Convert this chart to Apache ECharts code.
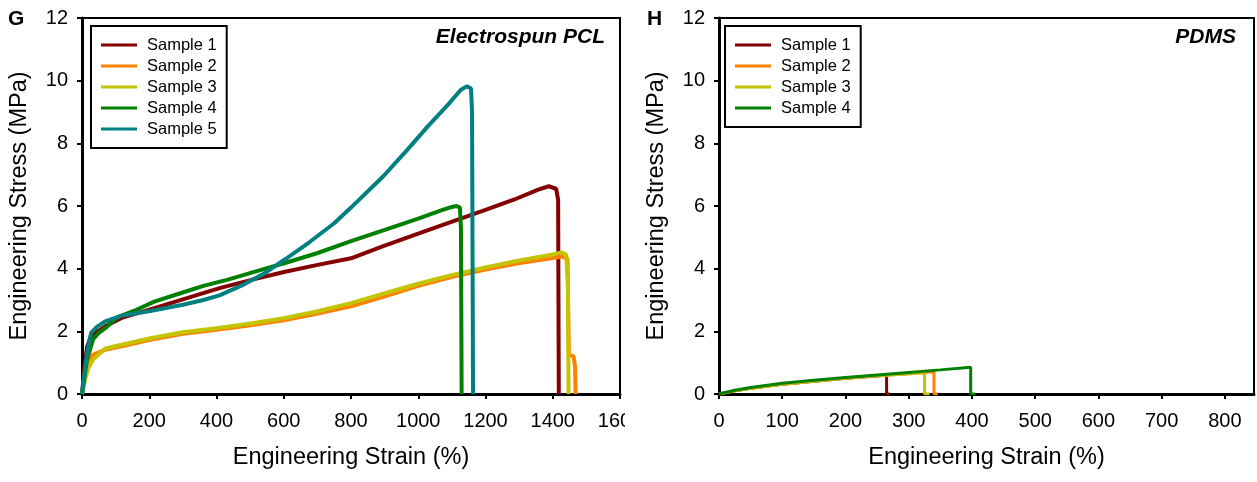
<!DOCTYPE html>
<html>
<head>
<meta charset="utf-8">
<script src="https://cdn.jsdelivr.net/npm/echarts@6/dist/echarts.min.js"></script>
<style>
  html, body { margin: 0; padding: 0; background: #fff; }
  #wrap { position: relative; width: 1257px; height: 482px; overflow: hidden; }
  #left { position: absolute; left: 0; top: 0; width: 625px; height: 482px; }
  #right { position: absolute; left: 625px; top: 0; width: 632px; height: 482px; }
</style>
</head>
<body>
<div id="wrap"><div id="left"></div><div id="right"></div></div>
<script>
// ---------- Data (strain %, stress MPa) ----------
const seriesNamesPCL = ['Sample 1', 'Sample 2', 'Sample 3', 'Sample 4', 'Sample 5'];
const seriesNamesPDMS = ['Sample 1', 'Sample 2', 'Sample 3', 'Sample 4'];
const sampleColors = ['#850000', '#FF8000', '#C4C400', '#008000', '#008080'];

const pclSample1 = [[0,0],[8,0.9],[15,1.5],[25,1.8],[40,1.95],[69,2.16],[118,2.43],[215,2.74],[312,3.06],[409,3.38],[507,3.65],[604,3.9],[701,4.12],[800,4.33],[896,4.72],[1000,5.12],[1090,5.46],[1200,5.88],[1284,6.2],[1357,6.52],[1388,6.63],[1410,6.55],[1416,6.2],[1418,0]];
const pclSample2 = [[0,0],[8,0.6],[15,0.99],[33,1.26],[69,1.41],[118,1.52],[203,1.73],[300,1.92],[400,2.05],[507,2.2],[600,2.35],[701,2.57],[800,2.8],[896,3.1],[1000,3.45],[1102,3.74],[1200,3.97],[1297,4.17],[1400,4.34],[1430,4.39],[1444,4.3],[1448,1.25],[1462,1.2],[1466,0.9],[1468,0]];
const pclSample3 = [[0,0],[10,0.5],[20,0.85],[33,1.1],[69,1.45],[118,1.57],[203,1.78],[300,1.97],[400,2.1],[507,2.26],[600,2.42],[701,2.64],[800,2.9],[896,3.2],[1000,3.52],[1102,3.8],[1200,4.04],[1297,4.25],[1400,4.45],[1425,4.52],[1440,4.45],[1445,3.5],[1447,0]];
const pclSample4 = [[0,0],[15,1.1],[33,1.75],[50,1.95],[69,2.1],[106,2.45],[154,2.65],[215,2.95],[288,3.2],[361,3.45],[434,3.65],[507,3.88],[604,4.18],[701,4.5],[800,4.88],[896,5.22],[1000,5.6],[1066,5.85],[1100,5.97],[1114,6.0],[1124,5.95],[1127,5.3],[1129,0]];
const pclSample5 = [[0,0],[10,0.9],[20,1.6],[27,1.95],[45,2.15],[69,2.32],[118,2.5],[203,2.65],[300,2.85],[361,3.0],[409,3.15],[482,3.5],[543,3.85],[604,4.3],[677,4.85],[750,5.45],[800,5.95],[896,6.95],[968,7.8],[1029,8.55],[1090,9.25],[1126,9.7],[1145,9.82],[1157,9.75],[1160,9.0],[1163,0]];

const pdmsSample1 = [[0,0],[25,0.1],[50,0.18],[100,0.31],[150,0.41],[200,0.5],[265,0.6],[265,0],[270,0]];
const pdmsSample2 = [[0,0],[25,0.1],[50,0.18],[100,0.31],[150,0.41],[200,0.5],[250,0.58],[300,0.65],[340,0.71],[340,0],[346,0]];
const pdmsSample3 = [[0,0],[25,0.1],[50,0.18],[100,0.31],[150,0.41],[200,0.5],[250,0.58],[300,0.65],[325,0.68],[325,0],[333,0]];
const pdmsSample4 = [[0,0],[25,0.12],[50,0.21],[100,0.34],[150,0.44],[200,0.53],[250,0.61],[300,0.69],[350,0.77],[398,0.85],[398,0],[405,0]];

const pclData = [pclSample1, pclSample2, pclSample3, pclSample4, pclSample5];
const pdmsData = [pdmsSample1, pdmsSample2, pdmsSample3, pdmsSample4];

const yTicks = { min: 0, max: 12, interval: 2 };
const pclX = { min: 0, max: 1600, interval: 200 };
const pdmsX = { min: 0, max: 846, interval: 100 };

// ---------- Helpers ----------
const FONT = 'Liberation Sans, Arial, sans-serif';

function makeOption(opts) {
  return {
    animation: false,
    backgroundColor: '#fff',
    textStyle: { fontFamily: FONT },
    grid: {
      show: true, borderColor: '#000', borderWidth: 2,
      left: opts.gridLeft, right: opts.gridRight, top: 18, bottom: 88,
      containLabel: false, outerBoundsMode: 'none'
    },
    legend: {
      orient: 'vertical', left: opts.legendLeft, top: 26,
      data: opts.names,
      icon: 'rect', itemWidth: 36, itemHeight: 3, itemGap: 1,
      borderColor: '#000', borderWidth: 2,
      padding: [9, 10, 9, 10],
      textStyle: { fontFamily: FONT, fontSize: 16.5, color: '#000', lineHeight: 20, padding: [0, 0, 0, 5] },
      selectedMode: false
    },
    xAxis: {
      type: 'value', min: opts.x.min, max: opts.x.max, interval: opts.x.interval,
      name: 'Engineering Strain (%)', nameLocation: 'middle', nameGap: 52,
      nameTextStyle: { fontFamily: FONT, fontSize: 23.5, color: '#000' },
      axisLine: { show: true, onZero: false, lineStyle: { color: '#000', width: 3 } },
      axisTick: { show: true, length: 5, lineStyle: { color: '#000', width: 2 } },
      axisLabel: { fontFamily: FONT, fontSize: 20, color: '#000', margin: 17, showMaxLabel: opts.showMaxX,
                   formatter: v => String(v) },
      splitLine: { show: false }
    },
    yAxis: {
      type: 'value', min: yTicks.min, max: yTicks.max, interval: yTicks.interval,
      name: 'Engineering Stress (MPa)', nameLocation: 'middle', nameGap: 50,
      nameTextStyle: { fontFamily: FONT, fontSize: 23.5, color: '#000' },
      axisLine: { show: true, onZero: false, lineStyle: { color: '#000', width: 3 } },
      axisTick: { show: true, length: 5, lineStyle: { color: '#000', width: 2 } },
      axisLabel: { fontFamily: FONT, fontSize: 20, color: '#000', margin: 14, formatter: v => String(v) },
      splitLine: { show: false }
    },
    graphic: [
      { type: 'text', left: opts.letterLeft, top: 9, style: { text: opts.letter, font: 'bold 21px ' + FONT, fill: '#000' } },
      { type: 'text', right: opts.titleRight, top: 27, style: { text: opts.title, font: 'italic bold 21px ' + FONT, fill: '#000' } }
    ],
    series: opts.data.map((d, i) => ({
      name: opts.names[i],
      type: 'line',
      data: d,
      showSymbol: false,
      symbol: 'none',
      lineStyle: { width: opts.lineWidth, color: sampleColors[i] },
      itemStyle: { color: sampleColors[i] },
      z: 2 + i
    }))
  };
}

const left = echarts.init(document.getElementById('left'), null, { renderer: 'canvas' });
left.setOption(makeOption({
  gridLeft: 82, gridRight: 5, legendLeft: 91, names: seriesNamesPCL, data: pclData,
  x: pclX, showMaxX: true, letter: 'G', letterLeft: 8, title: 'Electrospun PCL', titleRight: 20,
  lineWidth: 4
}));

const right = echarts.init(document.getElementById('right'), null, { renderer: 'canvas' });
right.setOption(makeOption({
  gridLeft: 94, gridRight: 3, legendLeft: 100, names: seriesNamesPDMS, data: pdmsData,
  x: pdmsX, showMaxX: false, letter: 'H', letterLeft: 22, title: 'PDMS', titleRight: 21,
  lineWidth: 3
}));
</script>
</body>
</html>
